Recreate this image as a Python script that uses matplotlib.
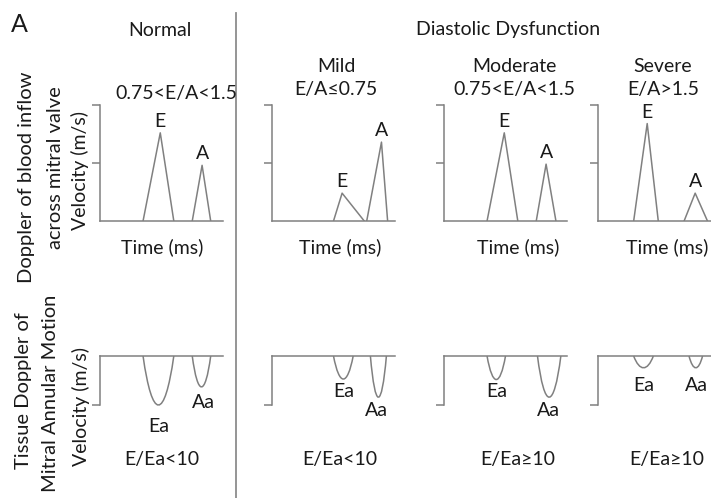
import matplotlib
matplotlib.use("Agg")
import matplotlib.pyplot as plt
from matplotlib.path import Path
from matplotlib.patches import PathPatch
from matplotlib.lines import Line2D

plt.rcParams['font.family'] = ['Lato', 'DejaVu Sans']

# ---- data -------------------------------------------------------------
panels = ["Normal", "Mild", "Moderate", "Severe"]
ea_ratio_text = ["0.75<E/A<1.5", "E/A≤0.75", "0.75<E/A<1.5", "E/A>1.5"]
e_ea_text = ["E/Ea<10", "E/Ea<10", "E/Ea≥10", "E/Ea≥10"]

# mitral inflow (time in arbitrary units 0-100, velocity as fraction of axis)
e_start = [35, 50, 35, 29]
e_peak_t = [49, 57, 49, 40]
e_end = [60, 75, 60, 49]
e_vel = [0.76, 0.24, 0.76, 0.84]
a_start = [75, 77, 75, 70]
a_peak_t = [83, 89, 83, 79]
a_end = [90, 94, 91, 89]
a_vel = [0.48, 0.68, 0.49, 0.24]

# tissue doppler of mitral annulus (negative velocities)
ea_start = [35, 50, 35, 29]
ea_end = [60, 66, 50, 45]
ea_vel = [-1.0, -0.47, -0.48, -0.24]
aa_start = [75, 80, 76, 74]
aa_end = [90, 93, 95, 85]
aa_vel = [-0.63, -0.84, -0.84, -0.24]

# ---- layout (pixels) --------------------------------------------------
W, H = 711, 498
ax_x0 = [100, 272, 444, 598]
ax_w = 123
col_x = [162, 340, 518, 667]
# label offsets below the dips (px)
ea_lab_dy = [-21, -12, -12, -18]
aa_lab = [(2, -16), (-2, -13), (-1, -13), (1, -18)]

GRAY = "#808080"
TXT = "#1a1a1a"
FS = 14


def fx(x):
    return x / W


def fy(y):
    return 1 - y / H


def dip(ax, s, e, d):
    w = e - s
    k = 0.3
    verts = [(s, 0), (s + k * w, d * 4 / 3), (e - k * w, d * 4 / 3), (e, 0)]
    codes = [Path.MOVETO, Path.CURVE4, Path.CURVE4, Path.CURVE4]
    ax.add_patch(PathPatch(Path(verts, codes), fill=False, ec=GRAY, lw=1.1,
                           clip_on=False))


fig = plt.figure(figsize=(W / 100, H / 100), dpi=100)

for i in range(4):
    # top row: mitral inflow doppler
    ax = fig.add_axes([fx(ax_x0[i]), fy(221), ax_w / W, 116 / H])
    ax.set_xlim(0, 100)
    ax.set_ylim(0, 1)
    for s in ["top", "right"]:
        ax.spines[s].set_visible(False)
    for s in ["left", "bottom"]:
        ax.spines[s].set_color(GRAY)
        ax.spines[s].set_linewidth(1.1)
    ax.set_xticks([])
    ax.set_yticks([0.5, 1.0])
    ax.tick_params(axis="y", length=6, width=1.1, color=GRAY, labelleft=False)
    ax.patch.set_visible(False)
    ax.plot([e_start[i], e_peak_t[i], e_end[i]], [0, e_vel[i], 0], color=GRAY, lw=1.1)
    ax.plot([a_start[i], a_peak_t[i], a_end[i]], [0, a_vel[i], 0], color=GRAY, lw=1.1)
    ax.annotate("E", (e_peak_t[i], e_vel[i]), xytext=(0, 3), textcoords="offset pixels",
                ha="center", va="bottom", fontsize=FS, color=TXT)
    ax.annotate("A", (a_peak_t[i], a_vel[i]), xytext=(0, 3), textcoords="offset pixels",
                ha="center", va="bottom", fontsize=FS, color=TXT)

    # bottom row: tissue doppler
    bx = fig.add_axes([fx(ax_x0[i]), fy(405), ax_w / W, 49 / H])
    bx.set_xlim(0, 100)
    bx.set_ylim(-1, 0)
    for s in ["bottom", "right"]:
        bx.spines[s].set_visible(False)
    for s in ["left", "top"]:
        bx.spines[s].set_color(GRAY)
        bx.spines[s].set_linewidth(1.1)
    bx.set_xticks([])
    bx.set_yticks([-1])
    bx.tick_params(axis="y", length=6, width=1.1, color=GRAY, labelleft=False)
    bx.patch.set_visible(False)
    dip(bx, ea_start[i], ea_end[i], ea_vel[i])
    dip(bx, aa_start[i], aa_end[i], aa_vel[i])
    bx.annotate("Ea", ((ea_start[i] + ea_end[i]) / 2, ea_vel[i]),
                xytext=(0, ea_lab_dy[i]), textcoords="offset pixels",
                ha="center", va="center", fontsize=FS, color=TXT, annotation_clip=False)
    bx.annotate("Aa", ((aa_start[i] + aa_end[i]) / 2, aa_vel[i]),
                xytext=aa_lab[i], textcoords="offset pixels",
                ha="center", va="center", fontsize=FS, color=TXT, annotation_clip=False)

    fig.text(fx(col_x[i]), fy(247), "Time (ms)", ha="center", va="center",
             fontsize=FS, color=TXT)
    fig.text(fx(col_x[i]), fy(459), e_ea_text[i], ha="center", va="center",
             fontsize=FS, color=TXT)

# headings
fig.text(fx(19), fy(25), "A", ha="center", va="center", fontsize=18, color=TXT)
fig.text(fx(160), fy(30), "Normal", ha="center", va="center", fontsize=FS, color=TXT)
fig.text(fx(508), fy(30), "Diastolic Dysfunction", ha="center", va="center",
         fontsize=FS, color=TXT)
fig.text(fx(176), fy(93), ea_ratio_text[0], ha="center", va="center", fontsize=FS, color=TXT)
for i in range(1, 4):
    fig.text(fx(col_x[i] - 4), fy(67), panels[i], ha="center", va="center",
             fontsize=FS, color=TXT)
    fig.text(fx(col_x[i] - 4), fy(90), ea_ratio_text[i], ha="center", va="center",
             fontsize=FS, color=TXT)

# row labels
RFS = 14.5
fig.text(fx(27), fy(177), "Doppler of blood inflow", rotation=90, ha="center",
         va="center", fontsize=RFS, color=TXT)
fig.text(fx(56), fy(168), "across mitral valve", rotation=90, ha="center",
         va="center", fontsize=RFS, color=TXT)
fig.text(fx(80), fy(170), "Velocity (m/s)", rotation=90, ha="center",
         va="center", fontsize=FS, color=TXT)
fig.text(fx(23), fy(391), "Tissue Doppler of", rotation=90, ha="center",
         va="center", fontsize=RFS, color=TXT)
fig.text(fx(51), fy(393), "Mitral Annular Motion", rotation=90, ha="center",
         va="center", fontsize=RFS, color=TXT)
fig.text(fx(81), fy(407), "Velocity (m/s)", rotation=90, ha="center",
         va="center", fontsize=FS, color=TXT)

# separator between normal and dysfunction columns
fig.add_artist(Line2D([fx(236), fx(236)], [fy(13), fy(498)], color="#8c8c8c", lw=1.3))

fig.savefig("out.png", dpi=100)
